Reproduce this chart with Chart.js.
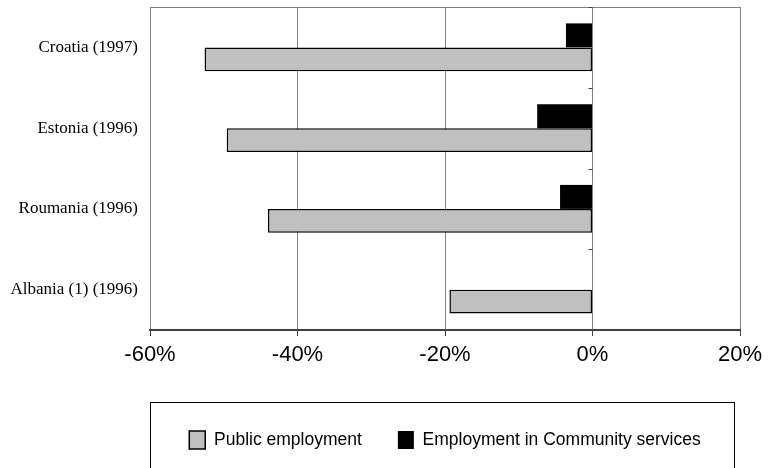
<!DOCTYPE html>
<html>
<head>
<meta charset="utf-8">
<script src="https://cdn.jsdelivr.net/npm/chart.js@4"></script>
<style>
  body { margin: 0; background: #ffffff; }
</style>
</head>
<body>
<canvas id="chart" width="771" height="468"></canvas>
<script>
// Categories (top to bottom)
const countries = ["Croatia (1997)", "Estonia (1996)", "Roumania (1996)", "Albania (1) (1996)"];

// Change in employment, percent
const publicEmployment = [-52.6, -49.6, -44.0, -19.4];
const communityServices = [-3.6, -7.5, -4.4, 0];

// x axis ticks
const xMin = -60;
const xMax = 20;
const xStep = 20;

// top border of the plot + small ticks on the zero line
const frameLines = {
    id: "frameLines",
    beforeDatasetsDraw(chart) {
        const ctx = chart.ctx;
        const area = chart.chartArea;
        const x0 = chart.scales.x.getPixelForValue(0);
        const yScale = chart.scales.y;
        ctx.save();
        ctx.strokeStyle = "#808080";
        ctx.lineWidth = 1;
        ctx.beginPath();
        ctx.moveTo(area.left, area.top + 0.5);
        ctx.lineTo(area.right, area.top + 0.5);
        ctx.stroke();
        ctx.strokeStyle = "#404040";
        ctx.beginPath();
        for (let i = 0; i < countries.length; i++) {
            const y = Math.round(yScale.getPixelForValue(i - 0.5)) + 0.5;
            ctx.moveTo(x0 - 4, y);
            ctx.lineTo(x0, y);
        }
        ctx.stroke();
        ctx.restore();
    }
};

// box round the legend
const legendBox = {
    id: "legendBox",
    afterDraw(chart) {
        const lg = chart.legend;
        const ctx = chart.ctx;
        ctx.save();
        ctx.strokeStyle = "#000000";
        ctx.lineWidth = 1;
        ctx.strokeRect(lg.left + 0.5, lg.top + 7.5, lg.right - lg.left - 6, chart.height);
        ctx.restore();
    }
};

const ctx = document.getElementById("chart").getContext("2d");
new Chart(ctx, {
    type: "bar",
    data: {
        labels: countries,
        datasets: [
            {
                label: "Employment in Community services",
                data: communityServices,
                backgroundColor: "#000000",
                borderColor: "#000000",
                borderWidth: 0
            },
            {
                label: "Public employment",
                data: publicEmployment,
                backgroundColor: "#c0c0c0",
                borderColor: "#000000",
                borderWidth: 1.5,
                borderSkipped: false
            }
        ]
    },
    options: {
        indexAxis: "y",
        responsive: false,
        animation: false,
        datasets: {
            bar: {
                categoryPercentage: 0.594,
                barPercentage: 1
            }
        },
        layout: {
            padding: { top: 7, right: 31, bottom: 9, left: 0 }
        },
        plugins: {
            tooltip: { enabled: false },
            legend: {
                position: "bottom",
                fullSize: false,
                reverse: true,
                labels: {
                    color: "#000000",
                    boxWidth: 16,
                    boxHeight: 18,
                    padding: 36,
                    font: { family: "'Liberation Sans', Arial, sans-serif", size: 17.5 }
                }
            }
        },
        scales: {
            x: {
                min: xMin,
                max: xMax,
                afterFit: (scale) => { scale.height = 65; },
                ticks: {
                    stepSize: xStep,
                    color: "#000000",
                    padding: 6,
                    maxRotation: 0,
                    font: { family: "'Liberation Sans', Arial, sans-serif", size: 22 },
                    callback: (v) => v + "%"
                },
                grid: {
                    color: "#808080",
                    lineWidth: 1,
                    tickLength: 6,
                    tickColor: "#404040"
                },
                border: {
                    display: true,
                    color: "#404040",
                    width: 2
                }
            },
            y: {
                afterFit: (scale) => {
                    scale.width = 150;
                    scale.paddingTop = 0;
                    scale.paddingBottom = 0;
                },
                ticks: {
                    color: "#000000",
                    padding: 12,
                    font: { family: "'Liberation Serif', 'Times New Roman', serif", size: 17 }
                },
                grid: { display: false, drawTicks: false },
                border: { display: false }
            }
        }
    },
    plugins: [frameLines, legendBox]
});
</script>
</body>
</html>
